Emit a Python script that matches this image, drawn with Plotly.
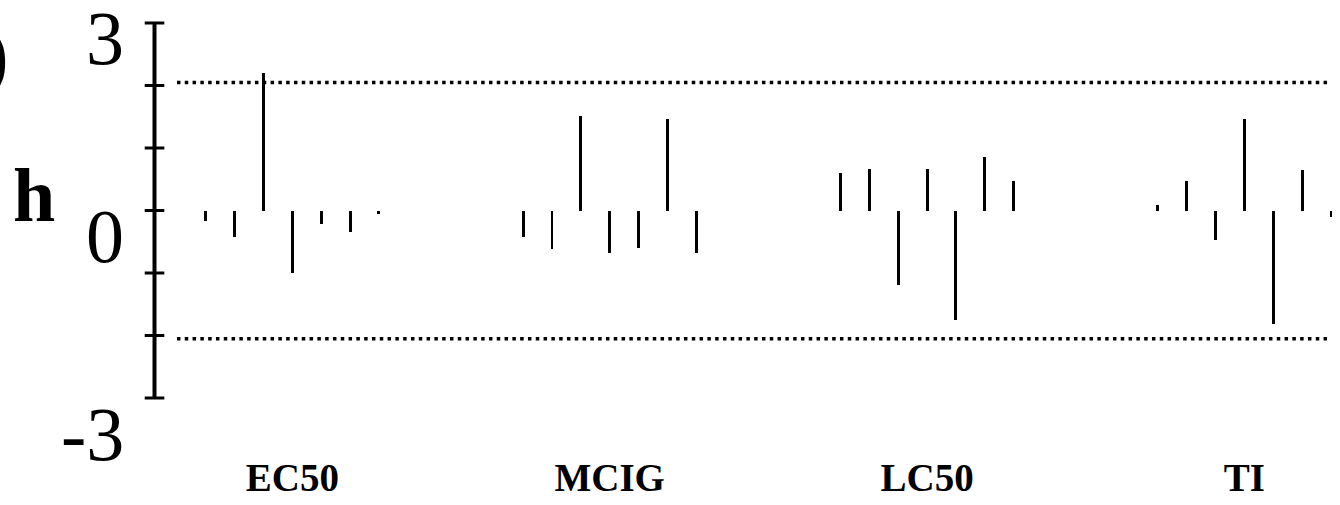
import plotly.graph_objects as go

# Mandel's h statistic per laboratory, grouped by endpoint
CATEGORIES = ["EC50", "MCIG", "LC50", "TI"]
H_EC50 = [-0.16, -0.42, 2.20, -1.00, -0.22, -0.34, -0.06]
H_MCIG = [-0.42, -0.61, 1.52, -0.68, -0.60, 1.46, -0.68]
H_LC50 = [0.60, 0.66, -1.19, 0.66, -1.75, 0.85, 0.47]
H_TI = [0.09, 0.47, -0.47, 1.46, -1.82, 0.65, -0.10]
H_CRIT = 2.05          # critical h value (dotted lines)
Y_TICK_VALS = [3, 0, -3]
Y_TICK_TEXT = ["3", "0", "-3"]
Y_MINOR = [3, 2, 1, 0, -1, -2, -3]
Y_LABEL = "h"

SERIES = [H_EC50, H_MCIG, H_LC50, H_TI]
GROUP_STEP = 11        # x spacing between endpoint groups
X_MIN, X_MAX = -1.865, 39.105
AXIS_X = -1.778

xs, ys = [], []
for g, vals in enumerate(SERIES):
    for i, v in enumerate(vals):
        xs.append(g * GROUP_STEP + i)
        ys.append(v)

n_labs = len(H_EC50)
group_centers = [g * GROUP_STEP + (n_labs - 1) / 2 for g in range(len(CATEGORIES))]
x_first = 0 - 1
x_last = (len(CATEGORIES) - 1) * GROUP_STEP + n_labs - 1

fig = go.Figure()

# h bars
fig.add_trace(go.Bar(
    x=xs, y=ys, width=0.1,
    marker=dict(color="black", line=dict(width=0)),
    showlegend=False, hoverinfo="skip",
))

# critical value lines
for hc in (H_CRIT, -H_CRIT):
    fig.add_trace(go.Scatter(
        x=[x_first, x_last], y=[hc, hc], mode="lines",
        line=dict(color="black", width=3.5, dash="3.5px,4.3px"),
        showlegend=False, hoverinfo="skip",
    ))

# vertical axis with crossing ticks
fig.add_trace(go.Scatter(
    x=[AXIS_X] * len(Y_MINOR), y=Y_MINOR, mode="lines+markers",
    line=dict(color="black", width=4),
    marker=dict(symbol="line-ew", size=14, line=dict(color="black", width=3)),
    cliponaxis=False, showlegend=False, hoverinfo="skip",
))

serif = "Liberation Serif, Times New Roman, serif"
annotations = []
label_shift = [-15, -25, -36]
for v, t, s in zip(Y_TICK_VALS, Y_TICK_TEXT, label_shift):
    annotations.append(dict(
        x=0, xref="paper", y=v, yref="y", text=t, showarrow=False,
        xanchor="right", yanchor="middle", xshift=-26, yshift=s,
        font=dict(family=serif, size=76, color="black"),
    ))
annotations.append(dict(
    x=0, xref="paper", y=0, yref="y", text=f"<b>{Y_LABEL}</b>", showarrow=False,
    xanchor="center", yanchor="middle", xshift=-118, yshift=16,
    font=dict(family=serif, size=76, color="black"),
))
annotations.append(dict(
    x=0, xref="paper", y=3, yref="y", text=")", showarrow=False,
    xanchor="right", yanchor="middle", xshift=-141, yshift=-32,
    font=dict(family=serif, size=80, color="black"),
))

fig.update_layout(
    width=1340, height=505, autosize=False,
    margin=dict(l=152, r=6, t=23, b=105, pad=0),
    paper_bgcolor="white", plot_bgcolor="white",
    bargap=0, annotations=annotations,
    xaxis=dict(
        range=[X_MIN, X_MAX], showgrid=False, zeroline=False, showline=False,
        tickmode="array", tickvals=group_centers,
        ticktext=[f"<b>{c}</b>" for c in CATEGORIES],
        ticks="", ticklabelstandoff=53,
        tickfont=dict(family=serif, size=39, color="black"),
    ),
    yaxis=dict(
        range=[-3, 3], showgrid=False, zeroline=False, showline=False,
        showticklabels=False, ticks="",
    ),
)

fig.write_html("out.html")
